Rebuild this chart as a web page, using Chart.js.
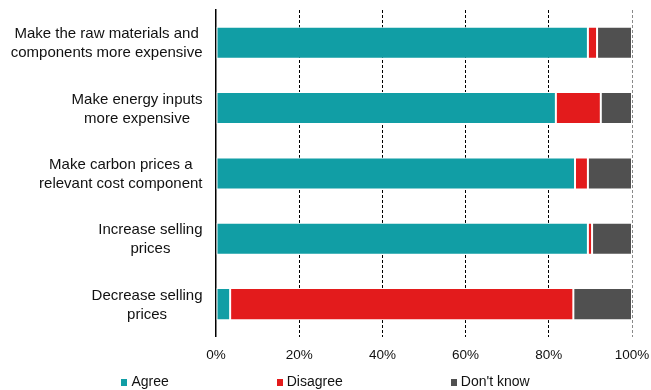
<!DOCTYPE html>
<html>
<head>
<meta charset="utf-8">
<script src="https://cdn.jsdelivr.net/npm/chart.js@4.4.1/dist/chart.umd.min.js"></script>
<style>
  html,body{margin:0;padding:0;background:#fff;}
  #wrap{position:relative;width:651px;height:390px;}
  #legend{position:absolute;left:0;top:372px;width:651px;display:flex;justify-content:center;gap:108px;
    font-family:"Liberation Sans",Arial,sans-serif;font-size:14px;color:#111;line-height:18px;}
  #legend span.item{display:flex;align-items:center;}
  #legend span.box{display:inline-block;width:6px;height:7px;margin-right:4px;margin-top:2px;}
</style>
</head>
<body>
<div id="wrap">
  <canvas id="chart" width="651" height="390"></canvas>
  <div id="legend"></div>
</div>
<script>
const categories=[
  ["Make the raw materials and","components more expensive"],
  ["Make energy inputs","more expensive"],
  ["Make carbon prices a","relevant cost component"],
  ["Increase selling","prices"],
  ["Decrease selling","prices"]
];
const seriesNames=["Agree","Disagree","Don't know"];
const agree=[89.4,81.7,86.3,89.4,3.4];
const disagree=[2.2,10.8,3.1,1.0,82.5];
const dontKnow=[8.4,7.5,10.6,9.6,14.1];
const xTicks=[0,20,40,60,80,100];

const colors=['#119ea5','#e31b1c','#505050'];
const FONT='"Liberation Sans", Arial, sans-serif';

// y labels centred line by line, right edge near the axis
const yLabelPlugin={
  id:'yLabels',
  afterDraw(chart){
    const {ctx,scales:{y}}=chart;
    ctx.save();
    ctx.font='15px '+FONT;
    ctx.fillStyle='#111';
    ctx.textAlign='center';
    ctx.textBaseline='middle';
    const lh=19;
    categories.forEach((lines,i)=>{
      const w=Math.max(...lines.map(l=>ctx.measureText(l).width));
      const cx=202.5-w/2;
      const cy=y.getPixelForValue(i);
      lines.forEach((l,j)=>{
        ctx.fillText(l,cx,cy+(j-(lines.length-1)/2)*lh+1);
      });
    });
    ctx.restore();
  }
};

const data={
  labels:categories.map(c=>c.join(' ')),
  datasets:[agree,disagree,dontKnow].map((vals,i)=>({
    label:seriesNames[i],
    data:vals,
    backgroundColor:colors[i],
    borderColor:'#fff',
    borderWidth:1,
    borderSkipped:false,
    barPercentage:0.49,
    categoryPercentage:1
  }))
};

new Chart(document.getElementById('chart'),{
  type:'bar',
  data:data,
  plugins:[yLabelPlugin],
  options:{
    indexAxis:'y',
    responsive:false,
    animation:false,
    layout:{padding:{left:0,right:19,top:10,bottom:17}},
    plugins:{legend:{display:false},tooltip:{enabled:false}},
    scales:{
      x:{
        stacked:true,min:0,max:100,
        afterBuildTicks(axis){axis.ticks=xTicks.map(v=>({value:v}));},
        afterFit(axis){axis.paddingLeft=0;axis.paddingRight=0;},
        ticks:{padding:10,color:'#111',font:{family:FONT,size:13.5},callback:v=>v+'%'},
        grid:{
          drawTicks:false,
          color:c=>c.tick&&c.tick.value===0?'rgba(0,0,0,0)':(c.tick&&c.tick.value===100?'#8a8a8a':'#000'),
          lineWidth:1
        },
        border:{display:false,dash:[3,2]}
      },
      y:{
        stacked:true,
        afterFit(axis){axis.width=216;},
        ticks:{display:false},
        grid:{display:false,drawTicks:false},
        border:{display:true,color:'#000',width:1.5}
      }
    }
  }
});

const legend=document.getElementById('legend');
seriesNames.forEach((n,i)=>{
  const item=document.createElement('span');item.className='item';
  const b=document.createElement('span');b.className='box';b.style.background=colors[i];
  const t=document.createElement('span');t.textContent=n;
  item.appendChild(b);item.appendChild(t);legend.appendChild(item);
});
</script>
</body>
</html>
